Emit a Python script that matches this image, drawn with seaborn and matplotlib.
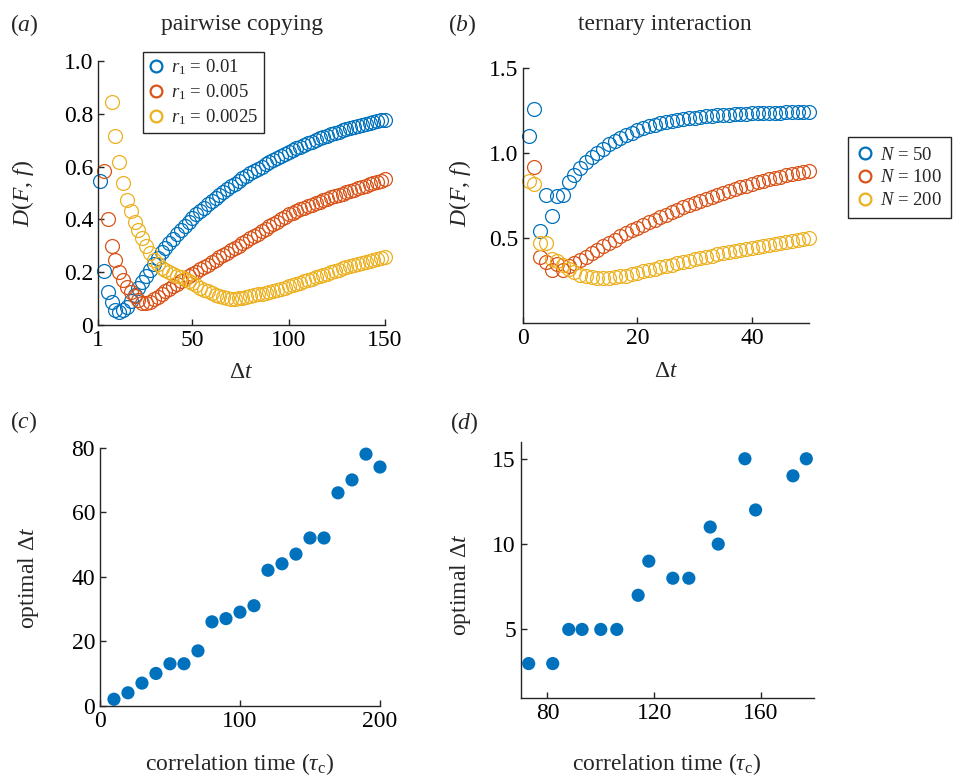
import numpy as np
import pandas as pd
import seaborn as sns
import matplotlib.pyplot as plt
from matplotlib.lines import Line2D

# colori stile MATLAB
BLUE = '#0072BD'
ORANGE = '#D95319'
YELLOW = '#EDB120'

# (a) pairwise copying
dt_a_r01 = list(range(2, 151, 2))
D_a_r01 = [0.545, 0.205, 0.125, 0.088, 0.058, 0.05, 0.055, 0.07, 0.09, 0.115,
           0.14, 0.162, 0.185, 0.21, 0.232, 0.255, 0.275, 0.293, 0.31, 0.327,
           0.345, 0.36, 0.375, 0.39, 0.405, 0.42, 0.433, 0.445, 0.458, 0.47,
           0.482, 0.494, 0.505, 0.515, 0.525, 0.535, 0.545, 0.555, 0.565, 0.575,
           0.584, 0.592, 0.60, 0.609, 0.617, 0.625, 0.633, 0.641, 0.648, 0.655,
           0.662, 0.669, 0.676, 0.683, 0.689, 0.695, 0.701, 0.707, 0.712, 0.717,
           0.722, 0.727, 0.732, 0.737, 0.742, 0.746, 0.75, 0.754, 0.758, 0.762,
           0.765, 0.769, 0.772, 0.775, 0.778]
dt_a_r005 = list(range(4, 151, 2))
D_a_r005 = [0.585, 0.40, 0.30, 0.245, 0.20, 0.17, 0.145, 0.125, 0.11, 0.095,
            0.085, 0.083, 0.088, 0.097, 0.107, 0.117, 0.127, 0.137, 0.147, 0.157,
            0.166, 0.175, 0.184, 0.193, 0.202, 0.211, 0.22, 0.229, 0.238, 0.247,
            0.256, 0.265, 0.274, 0.283, 0.292, 0.30, 0.309, 0.318, 0.328, 0.337,
            0.346, 0.355, 0.364, 0.374, 0.383, 0.392, 0.401, 0.41, 0.42, 0.426,
            0.432, 0.438, 0.444, 0.45, 0.456, 0.462, 0.467, 0.473, 0.478, 0.483,
            0.488, 0.493, 0.498, 0.503, 0.508, 0.513, 0.518, 0.523, 0.528, 0.533,
            0.537, 0.542, 0.547, 0.552]
dt_a_r0025 = list(range(8, 151, 2))
D_a_r0025 = [0.846, 0.716, 0.616, 0.537, 0.473, 0.43, 0.39, 0.36, 0.33, 0.30,
             0.272, 0.248, 0.23, 0.217, 0.207, 0.2, 0.194, 0.187, 0.18, 0.173,
             0.166, 0.158, 0.15, 0.142, 0.134, 0.127, 0.12, 0.114, 0.109, 0.105,
             0.102, 0.10, 0.10, 0.101, 0.104, 0.107, 0.11, 0.113, 0.116, 0.119,
             0.122, 0.126, 0.13, 0.134, 0.138, 0.142, 0.146, 0.151, 0.155, 0.16,
             0.165, 0.17, 0.175, 0.18, 0.185, 0.19, 0.195, 0.2, 0.205, 0.209,
             0.214, 0.218, 0.222, 0.227, 0.231, 0.235, 0.239, 0.243, 0.247, 0.251,
             0.255, 0.259]
labels_a = [r'$r_1$ = 0.01', r'$r_1$ = 0.005', r'$r_1$ = 0.0025']

# (b) ternary interaction
dt_b_N50 = list(range(1, 51))
D_b_N50 = [1.10, 1.26, 0.54, 0.755, 0.63, 0.745, 0.75, 0.83, 0.87, 0.91,
           0.945, 0.975, 1.0, 1.025, 1.05, 1.07, 1.09, 1.105, 1.12, 1.135,
           1.147, 1.157, 1.166, 1.174, 1.181, 1.187, 1.193, 1.198, 1.203, 1.207,
           1.211, 1.215, 1.218, 1.221, 1.224, 1.226, 1.228, 1.23, 1.232, 1.234,
           1.235, 1.236, 1.237, 1.238, 1.238, 1.239, 1.239, 1.239, 1.239, 1.239]
dt_b_N100 = list(range(2, 51))
D_b_N100 = [0.92, 0.39, 0.36, 0.31, 0.345, 0.31, 0.335, 0.35, 0.37, 0.39,
            0.41, 0.43, 0.45, 0.47, 0.49, 0.51, 0.527, 0.544, 0.56, 0.576,
            0.592, 0.608, 0.623, 0.638, 0.652, 0.666, 0.68, 0.693, 0.706, 0.719,
            0.731, 0.743, 0.755, 0.766, 0.777, 0.788, 0.798, 0.808, 0.818, 0.827,
            0.836, 0.845, 0.853, 0.861, 0.868, 0.875, 0.881, 0.887, 0.892]
dt_b_N200 = list(range(1, 51))
D_b_N200 = [0.835, 0.815, 0.47, 0.47, 0.375, 0.365, 0.34, 0.315, 0.30, 0.285,
            0.276, 0.27, 0.267, 0.265, 0.267, 0.27, 0.274, 0.279, 0.29, 0.296,
            0.303, 0.311, 0.319, 0.327, 0.335, 0.343, 0.351, 0.359, 0.367, 0.375,
            0.382, 0.389, 0.396, 0.403, 0.41, 0.417, 0.424, 0.43, 0.437, 0.443,
            0.449, 0.455, 0.461, 0.467, 0.472, 0.478, 0.484, 0.489, 0.495, 0.50]
labels_b = [r'$N$ = 50', r'$N$ = 100', r'$N$ = 200']

# (c) optimal dt vs correlation time, pairwise
tau_c = [10, 20, 30, 40, 50, 60, 70, 80, 90, 100,
         110, 120, 130, 140, 150, 160, 170, 180, 190, 200]
opt_c = [2, 4, 7, 10, 13, 13, 17, 26, 27, 29,
         31, 42, 44, 47, 52, 52, 66, 70, 78, 74]

# (d) optimal dt vs correlation time, ternary
tau_d = [73, 82, 88, 93, 100, 106, 114, 118, 127, 133, 141, 144, 154, 158, 172, 177]
opt_d = [3, 3, 5, 5, 5, 5, 7, 9, 8, 8, 11, 10, 15, 12, 14, 15]

sns.set_style('ticks', {'xtick.direction': 'in', 'ytick.direction': 'in',
                        'axes.edgecolor': '#262626'})
plt.rcParams['font.family'] = ['Liberation Serif', 'DejaVu Serif']
plt.rcParams['mathtext.fontset'] = 'custom'
plt.rcParams['mathtext.rm'] = 'Liberation Serif'
plt.rcParams['mathtext.it'] = 'Liberation Serif:italic'
plt.rcParams['font.size'] = 17
plt.rcParams['axes.linewidth'] = 1.0
plt.rcParams['xtick.major.size'] = 4
plt.rcParams['ytick.major.size'] = 4

FS = 17

fig = plt.figure(figsize=(9.63, 7.76), dpi=100)
ax_a = fig.add_axes([0.1018, 0.5812, 0.298, 0.3402])
ax_b = fig.add_axes([0.5431, 0.5838, 0.297, 0.3286])
ax_c = fig.add_axes([0.1038, 0.0906, 0.2908, 0.3325])
ax_d = fig.add_axes([0.5407, 0.1009, 0.3049, 0.3299])


def long_df(xs, ys, labels):
    frames = []
    for x, y, lab in zip(xs, ys, labels):
        frames.append(pd.DataFrame({'dt': x, 'D': y, 'serie': lab}))
    return pd.concat(frames, ignore_index=True)


def open_circles(ax, df, labels):
    sns.lineplot(data=df, x='dt', y='D', hue='serie', hue_order=labels,
                 palette=[BLUE, ORANGE, YELLOW], ax=ax, legend=False,
                 errorbar=None, linestyle='none', marker='o', markersize=10,
                 markerfacecolor='none', markeredgecolor=None, markeredgewidth=0.9,
                 clip_on=False)
    handles = [Line2D([], [], linestyle='none', marker='o', markersize=8.5,
                      markerfacecolor='none', markeredgecolor=c, markeredgewidth=1.6)
               for c in [BLUE, ORANGE, YELLOW]]
    return handles


df_a = long_df([dt_a_r01, dt_a_r005, dt_a_r0025], [D_a_r01, D_a_r005, D_a_r0025], labels_a)
h = open_circles(ax_a, df_a, labels_a)
ax_a.set_xlim(1, 150)
ax_a.set_ylim(0, 1)
ax_a.set_xticks([1, 50, 100, 150])
ax_a.set_yticks([0, 0.2, 0.4, 0.6, 0.8, 1.0])
ax_a.set_yticklabels(['0', '0.2', '0.4', '0.6', '0.8', '1.0'])
leg = ax_a.legend(h, labels_a, loc='upper left', bbox_to_anchor=(0.157, 1.034),
                  borderaxespad=0, fontsize=13.5, fancybox=False, edgecolor='#262626',
                  framealpha=1, handlelength=0.8, handletextpad=0.4, labelspacing=0.28,
                  borderpad=0.3)
leg.get_frame().set_linewidth(1.0)

df_b = long_df([dt_b_N50, dt_b_N100, dt_b_N200], [D_b_N50, D_b_N100, D_b_N200], labels_b)
h = open_circles(ax_b, df_b, labels_b)
ax_b.set_xlim(0, 50)
ax_b.set_ylim(0, 1.5)
ax_b.set_xticks([0, 20, 40])
ax_b.set_yticks([0.5, 1.0, 1.5])
ax_b.set_yticklabels(['0.5', '1.0', '1.5'])
leg = ax_b.legend(h, labels_b, loc='upper left', bbox_to_anchor=(1.136, 0.729),
                  borderaxespad=0, fontsize=13.5, fancybox=False, edgecolor='#262626',
                  framealpha=1, handlelength=0.8, handletextpad=0.4, labelspacing=0.3,
                  borderpad=0.5)
leg.get_frame().set_linewidth(1.0)

sns.scatterplot(x=tau_c, y=opt_c, ax=ax_c, color=BLUE, s=90, edgecolor='none',
                clip_on=False)
ax_c.set_xlim(0, 200)
ax_c.set_ylim(0, 80)
ax_c.set_xticks([0, 100, 200])
ax_c.set_yticks([0, 20, 40, 60, 80])

sns.scatterplot(x=tau_d, y=opt_d, ax=ax_d, color=BLUE, s=90, edgecolor='none',
                clip_on=False)
ax_d.set_xlim(70, 180)
ax_d.set_ylim(1, 16)
ax_d.set_xticks([80, 120, 160])
ax_d.set_yticks([5, 10, 15])

for ax in [ax_a, ax_b, ax_c, ax_d]:
    sns.despine(ax=ax)
    ax.tick_params(labelsize=FS, colors='#262626', labelcolor='black', width=1.0)

ax_a.set_xlabel(r'$\Delta t$', fontsize=FS)
ax_a.set_ylabel(r'$D(F,\,f)$', fontsize=FS)
ax_a.xaxis.set_label_coords(0.5, -0.14)
ax_a.yaxis.set_label_coords(-0.215, 0.5)
ax_b.set_xlabel(r'$\Delta t$', fontsize=FS)
ax_b.set_ylabel(r'$D(F,\,f)$', fontsize=FS)
ax_b.xaxis.set_label_coords(0.5, -0.15)
ax_b.yaxis.set_label_coords(-0.175, 0.51)
ax_c.set_xlabel(r'correlation time ($\tau_\mathrm{c}$)', fontsize=FS)
ax_c.set_ylabel(r'optimal $\Delta t$', fontsize=FS)
ax_c.xaxis.set_label_coords(0.5, -0.175)
ax_c.yaxis.set_label_coords(-0.21, 0.495)
ax_d.set_xlabel(r'correlation time ($\tau_\mathrm{c}$)', fontsize=FS)
ax_d.set_ylabel(r'optimal $\Delta t$', fontsize=FS)
ax_d.xaxis.set_label_coords(0.498, -0.21)
ax_d.yaxis.set_label_coords(-0.163, 0.44)

fig.text(0.251, 0.968, 'pairwise copying', ha='center', va='center', fontsize=FS)
fig.text(0.6906, 0.968, 'ternary interaction', ha='center', va='center', fontsize=FS)
fig.text(0.0104, 0.968, r'($a$)', ha='left', va='center', fontsize=FS)
fig.text(0.465, 0.968, r'($b$)', ha='left', va='center', fontsize=FS)
fig.text(0.0104, 0.4562, r'($c$)', ha='left', va='center', fontsize=FS)
fig.text(0.467, 0.455, r'($d$)', ha='left', va='center', fontsize=FS)

fig.savefig('out.png', dpi=100)
